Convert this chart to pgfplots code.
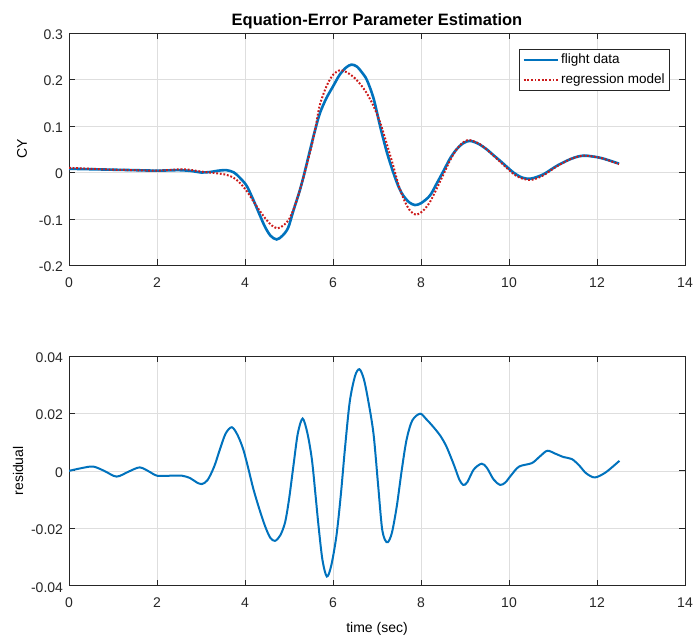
\documentclass[border=0pt]{standalone}
\usepackage{pgfplots}
\pgfplotsset{compat=1.18}
\usepackage{fontspec}
\setmainfont{Liberation Sans}
\definecolor{mblue}{rgb}{0,0.447,0.741}
\definecolor{mred}{rgb}{0.80,0.10,0.10}
\definecolor{axgray}{rgb}{0.15,0.15,0.15}
\definecolor{gridgray}{rgb}{0.87,0.87,0.87}
\pgfplotsset{
  mystyle/.style={
    scale only axis,
    width=616bp,
    xmin=0, xmax=14,
    xtick={0,2,4,6,8,10,12,14},
    xticklabels={0,2,4,6,8,10,12,14},
    scaled y ticks=false,
    font=\fontsize{14bp}{16bp}\selectfont,
    tick label style={color=axgray},
    label style={color=axgray},
    axis line style={color=axgray, line width=0.8bp},
    tick style={color=axgray, line width=0.8bp},
    major tick length=6bp,
    tick align=inside,
    xtick pos=both, ytick pos=both,
    grid=major,
    major grid style={color=gridgray, line width=0.6bp},
    enlargelimits=false,
    xticklabel style={yshift=-8.5bp},
    yticklabel style={xshift=-2.5bp, yshift=-1.5bp},
  }
}
\begin{document}
\begin{tikzpicture}
\path[use as bounding box] (0,0) rectangle (696bp,637bp);
\begin{axis}[
  mystyle,
  at={(69bp,371.5bp)}, anchor=south west,
  height=232.5bp,
  ymin=-0.2, ymax=0.3,
  ytick={-0.2,-0.1,0,0.1,0.2,0.3},
  yticklabels={-0.2,-0.1,0,0.1,0.2,0.3},
  ylabel={CY},
  every axis y label/.style={at={(axis description cs:-0.0763,0.5)}, rotate=90, anchor=center},
  title={\fontsize{16.5bp}{18bp}\selectfont\textbf{Equation-Error Parameter Estimation}},
  title style={at={(axis description cs:0.5,1.054)}, anchor=center, yshift=-6.5bp, color=black},
  legend style={at={(axis description cs:0.9756,0.931)}, anchor=north east,
    draw=axgray, line width=0.8bp, inner xsep=3bp, inner ysep=4.5bp,
    font=\fontsize{13.5bp}{15bp}\selectfont,
    nodes={inner xsep=2bp, inner ysep=0bp, text height=9.8bp, text depth=2.6bp}, row sep=7.5bp},
  legend cell align=left,
  legend image code/.code={\draw[#1] (0bp,0bp) -- (34bp,0bp);},
]
\addplot[mblue, line width=2.6bp, smooth] coordinates {
(0,0.008) (0.5,0.007) (1,0.006) (1.5,0.005) (2,0.004) (2.5,0.005) (2.8,0.003) (3.0,0.0) (3.2,0.001) (3.4,0.004) (3.58,0.005) (3.75,0.0) (3.89,-0.012) (4.04,-0.029) (4.19,-0.059) (4.32,-0.088) (4.45,-0.116) (4.58,-0.136) (4.72,-0.144) (4.85,-0.136) (4.98,-0.119) (5.10,-0.082) (5.25,-0.037) (5.37,0.006) (5.48,0.049) (5.59,0.090) (5.70,0.127) (5.85,0.160) (6.0,0.185) (6.15,0.210) (6.3,0.226) (6.42,0.232) (6.54,0.228) (6.66,0.215) (6.77,0.199) (6.92,0.160) (7.07,0.100) (7.22,0.045) (7.37,0.0) (7.50,-0.033) (7.60,-0.050) (7.73,-0.064) (7.86,-0.070) (8.0,-0.066) (8.20,-0.050) (8.35,-0.025) (8.51,0.003) (8.66,0.030) (8.81,0.050) (8.96,0.063) (9.11,0.068) (9.3,0.062) (9.49,0.050) (9.65,0.037) (9.80,0.025) (10.1,0.0) (10.3,-0.011) (10.48,-0.0135) (10.65,-0.009) (10.8,-0.003) (11.1,0.015) (11.4,0.029) (11.6,0.035) (11.77,0.036) (12.1,0.031) (12.5,0.019)
};
\addlegendentry{flight data}
\addplot[mred, line width=2bp, smooth, dash pattern=on 1.8bp off 1.8bp] coordinates {
(0,0.010) (0.5,0.008) (1,0.006) (1.5,0.005) (2,0.004) (2.6,0.007) (3.0,0.002) (3.3,-0.001) (3.58,-0.005) (3.75,-0.012) (3.89,-0.023) (4.04,-0.040) (4.19,-0.062) (4.34,-0.083) (4.48,-0.101) (4.61,-0.114) (4.74,-0.120) (4.87,-0.114) (5.0,-0.101) (5.12,-0.075) (5.25,-0.037) (5.38,0.008) (5.51,0.056) (5.61,0.100) (5.70,0.145) (5.85,0.185) (6.0,0.210) (6.16,0.220) (6.3,0.216) (6.46,0.206) (6.62,0.190) (6.77,0.170) (6.92,0.143) (7.07,0.108) (7.22,0.062) (7.37,0.014) (7.50,-0.030) (7.64,-0.064) (7.76,-0.083) (7.89,-0.091) (8.04,-0.083) (8.20,-0.064) (8.35,-0.036) (8.51,-0.004) (8.66,0.026) (8.81,0.050) (8.95,0.064) (9.08,0.070) (9.3,0.063) (9.49,0.050) (9.65,0.036) (9.80,0.023) (10.1,-0.003) (10.3,-0.013) (10.5,-0.016) (10.65,-0.012) (10.8,-0.005) (11.1,0.014) (11.4,0.029) (11.6,0.035) (11.77,0.036) (12.1,0.031) (12.5,0.018)
};
\addlegendentry{regression model}
\end{axis}
\begin{axis}[
  mystyle,
  at={(69bp,51.3bp)}, anchor=south west,
  height=229.7bp,
  ymin=-0.04, ymax=0.04,
  ytick={-0.04,-0.02,0,0.02,0.04},
  yticklabels={-0.04,-0.02,0,0.02,0.04},
  ylabel={residual},
  every axis y label/.style={at={(axis description cs:-0.0828,0.5)}, rotate=90, anchor=center},
  xlabel={time (sec)},
  every axis x label/.style={at={(axis description cs:0.5,-0.186)}, anchor=center},
]
\addplot[mblue, line width=2bp, smooth] coordinates {
(0,0.0) (0.3,0.001) (0.55,0.0015) (0.8,0.0) (1.08,-0.002) (1.35,-0.0003) (1.61,0.0012) (1.85,-0.0005) (2.0,-0.0017) (2.3,-0.0017) (2.57,-0.0017) (2.75,-0.0025) (2.9,-0.0040) (3.02,-0.0046) (3.15,-0.0032) (3.3,0.0015) (3.43,0.0075) (3.56,0.0130) (3.70,0.0152) (3.83,0.0125) (3.96,0.0075) (4.08,0.0005) (4.19,-0.0063) (4.32,-0.0130) (4.45,-0.0190) (4.57,-0.0232) (4.68,-0.0244) (4.80,-0.0225) (4.91,-0.0180) (5.0,-0.0100) (5.10,0.0017) (5.2,0.0130) (5.31,0.0182) (5.42,0.0130) (5.52,0.0040) (5.60,-0.0080) (5.67,-0.0190) (5.76,-0.0310) (5.86,-0.0368) (5.96,-0.0330) (6.08,-0.0224) (6.18,-0.0080) (6.27,0.0075) (6.38,0.0240) (6.50,0.0330) (6.60,0.0354) (6.70,0.0320) (6.80,0.0245) (6.92,0.0130) (7.02,-0.0040) (7.11,-0.0195) (7.18,-0.0240) (7.25,-0.0248) (7.34,-0.0215) (7.45,-0.0123) (7.56,0.0000) (7.67,0.0107) (7.80,0.0175) (7.98,0.0199) (8.12,0.0180) (8.28,0.0153) (8.44,0.0122) (8.58,0.0084) (8.75,0.0020) (8.87,-0.0030) (8.96,-0.0049) (9.05,-0.0040) (9.2,0.0005) (9.38,0.0025) (9.5,0.0010) (9.65,-0.0030) (9.80,-0.0049) (9.92,-0.0040) (10.05,-0.0015) (10.23,0.0015) (10.52,0.0027) (10.7,0.0050) (10.87,0.0070) (11.05,0.0060) (11.24,0.0048) (11.43,0.0041) (11.6,0.0018) (11.75,-0.0008) (11.95,-0.0023) (12.2,-0.0005) (12.51,0.0035)
};
\end{axis}
\end{tikzpicture}
\end{document}
